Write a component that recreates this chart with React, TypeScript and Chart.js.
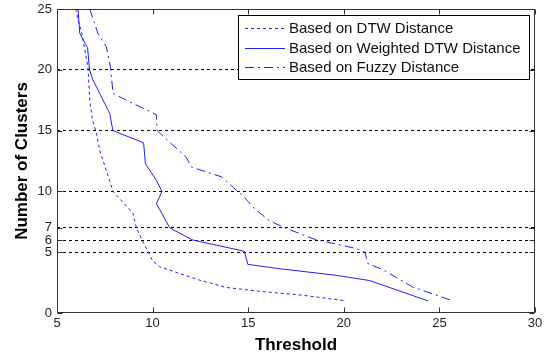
import React, { useEffect, useRef } from "react";
import { Chart, registerables } from "chart.js";

Chart.register(...registerables);

const xTickValues = [5, 10, 15, 20, 25, 30];
const yTickValues = [0, 5, 6, 7, 10, 15, 20, 25];
const gridYValues = [5, 6, 7, 10, 15, 20];

const seriesLabels = [
  "Based on DTW Distance",
  "Based on Weighted DTW Distance",
  "Based on Fuzzy Distance",
];

const dtwX = [5.98, 6.1, 6.3, 6.62, 6.71, 6.85, 7.06, 7.23, 7.75, 7.93, 8.97, 9.15, 9.5, 10.0, 10.37, 12.46, 13.85, 15.95, 17.86, 20.1];
const dtwY = [25, 24.1, 23, 20.2, 17.5, 15.9, 14.8, 13.4, 10.9, 10, 8.2, 7, 5.85, 4.3, 3.8, 2.7, 2.1, 1.73, 1.46, 1.0];

const weightedX = [6.1, 6.19, 6.6, 6.7, 6.87, 7.76, 7.92, 9.53, 9.62, 10.2, 10.49, 10.2, 10.9, 12.1, 14.8, 14.98, 16.6, 19.6, 21.35, 24.4];
const weightedY = [25, 23, 21.8, 20, 19.2, 16.4, 15, 14, 12.3, 10.9, 10, 9, 7, 6, 5.08, 4, 3.65, 3.1, 2.67, 1.0];

const fuzzyX = [6.71, 7.14, 7.58, 7.8, 7.93, 8.63, 10.2, 10.23, 11.76, 12.03, 13.6, 14.38, 14.81, 15.25, 15.86, 16.1, 16.8, 18.4, 20.65, 21.1, 21.26, 22.04, 23.6, 25.7];
const fuzzyY = [25, 23, 21.9, 20.2, 18.06, 17.5, 16.3, 15, 12.8, 12, 11.2, 10.1, 9.5, 8.7, 7.9, 7.6, 7.08, 6.1, 5.3, 5.0, 4.07, 3.57, 2.14, 1.0];

const LINE_COLOR = "rgb(30,30,255)";
const FONT = "'Liberation Sans', Arial, sans-serif";

const toPoints = (xs: number[], ys: number[]) => xs.map((x, i) => ({ x, y: ys[i] }));

const framePlugin = {
  id: "frameAndLegend",
  afterDatasetsDraw(chart: any) {
    const { ctx, chartArea } = chart;
    const xs = chart.scales.x;
    const ys = chart.scales.y;
    const L = Math.round(chartArea.left) + 0.5;
    const R = Math.round(chartArea.right) - 0.5;
    const T = Math.round(chartArea.top) + 0.5;
    const B = Math.round(chartArea.bottom) - 0.5;
    ctx.save();
    ctx.setLineDash([]);
    ctx.strokeStyle = "#333";
    ctx.lineWidth = 1;
    ctx.strokeRect(L, T, R - L, B - T);
    const tl = 5;
    ctx.beginPath();
    xTickValues.forEach((v) => {
      const px = Math.round(xs.getPixelForValue(v)) + 0.5;
      ctx.moveTo(px, B);
      ctx.lineTo(px, B - tl);
      ctx.moveTo(px, T);
      ctx.lineTo(px, T + tl);
    });
    yTickValues.forEach((v) => {
      const py = Math.round(ys.getPixelForValue(v)) + 0.5;
      ctx.moveTo(L, py);
      ctx.lineTo(L + tl, py);
      ctx.moveTo(R, py);
      ctx.lineTo(R - tl, py);
    });
    ctx.stroke();

    // legend box
    const bx = 238.5, by = 15.5, bw = 291, bh = 64;
    ctx.fillStyle = "#fff";
    ctx.fillRect(bx, by, bw, bh);
    ctx.strokeStyle = "#000";
    ctx.strokeRect(bx, by, bw, bh);
    const rowY = [28, 48, 67];
    chart.data.datasets.forEach((ds: any, i: number) => {
      const y = rowY[i] + 0.5;
      ctx.strokeStyle = ds.borderColor;
      ctx.lineWidth = ds.borderWidth;
      ctx.setLineDash(ds.borderDash || []);
      ctx.beginPath();
      ctx.moveTo(245, y);
      ctx.lineTo(285, y);
      ctx.stroke();
      ctx.setLineDash([]);
      ctx.fillStyle = "#111";
      ctx.font = `15px ${FONT}`;
      ctx.textBaseline = "middle";
      ctx.textAlign = "left";
      ctx.fillText(ds.label, 289, rowY[i] + 1);
    });
    ctx.restore();
  },
};

export default function App() {
  const ref = useRef<HTMLCanvasElement | null>(null);
  useEffect(() => {
    document.body.style.margin = "0";
    const canvas = ref.current!;
    const chart = new Chart(canvas, {
      type: "line",
      data: {
        datasets: [
          {
            label: seriesLabels[0],
            data: toPoints(dtwX, dtwY),
            borderColor: LINE_COLOR,
            borderWidth: 1,
            borderDash: [3, 3],
            pointRadius: 0,
            fill: false,
            tension: 0,
          },
          {
            label: seriesLabels[1],
            data: toPoints(weightedX, weightedY),
            borderColor: LINE_COLOR,
            borderWidth: 1,
            borderDash: [],
            pointRadius: 0,
            fill: false,
            tension: 0,
          },
          {
            label: seriesLabels[2],
            data: toPoints(fuzzyX, fuzzyY),
            borderColor: LINE_COLOR,
            borderWidth: 1,
            borderDash: [9, 4, 2, 4],
            pointRadius: 0,
            fill: false,
            tension: 0,
          },
        ],
      },
      options: {
        animation: false,
        responsive: false,
        layout: { padding: { top: 9, right: 14, left: 0, bottom: 0 } },
        plugins: { legend: { display: false }, tooltip: { enabled: false } },
        scales: {
          x: {
            type: "linear",
            min: 5,
            max: 30,
            afterBuildTicks: (s: any) => {
              s.ticks = xTickValues.map((v) => ({ value: v }));
            },
            afterFit: (s: any) => {
              s.height = 43;
              s.paddingLeft = 0;
              s.paddingRight = 0;
            },
            ticks: {
              padding: 3,
              color: "#222",
              font: { family: FONT, size: 13 },
            },
            grid: { display: false, drawTicks: false },
            border: { display: false },
            title: {
              display: true,
              text: "Threshold",
              color: "#000",
              font: { family: FONT, size: 17, weight: "bold" },
              padding: { top: 3, bottom: 0 },
            },
          },
          y: {
            type: "linear",
            min: 0,
            max: 25,
            afterBuildTicks: (s: any) => {
              s.ticks = yTickValues.map((v) => ({ value: v }));
            },
            afterFit: (s: any) => {
              s.width = 57;
              s.paddingTop = 0;
              s.paddingBottom = 0;
            },
            ticks: {
              padding: 5,
              color: "#222",
              font: { family: FONT, size: 13 },
            },
            grid: {
              drawTicks: false,
              lineWidth: 1,
              color: (c: any) =>
                c.tick && gridYValues.includes(c.tick.value) ? "#000" : "rgba(0,0,0,0)",
            },
            border: { display: false, dash: [3, 3] },
            title: {
              display: true,
              text: "Number of Clusters",
              color: "#000",
              font: { family: FONT, size: 17, weight: "bold" },
              padding: { top: 12, bottom: 0 },
            },
          },
        },
      },
      plugins: [framePlugin],
    });
    return () => chart.destroy();
  }, []);
  return (
    <div style={{ width: 549, height: 356 }}>
      <canvas ref={ref} width={549} height={356} />
    </div>
  );
}
